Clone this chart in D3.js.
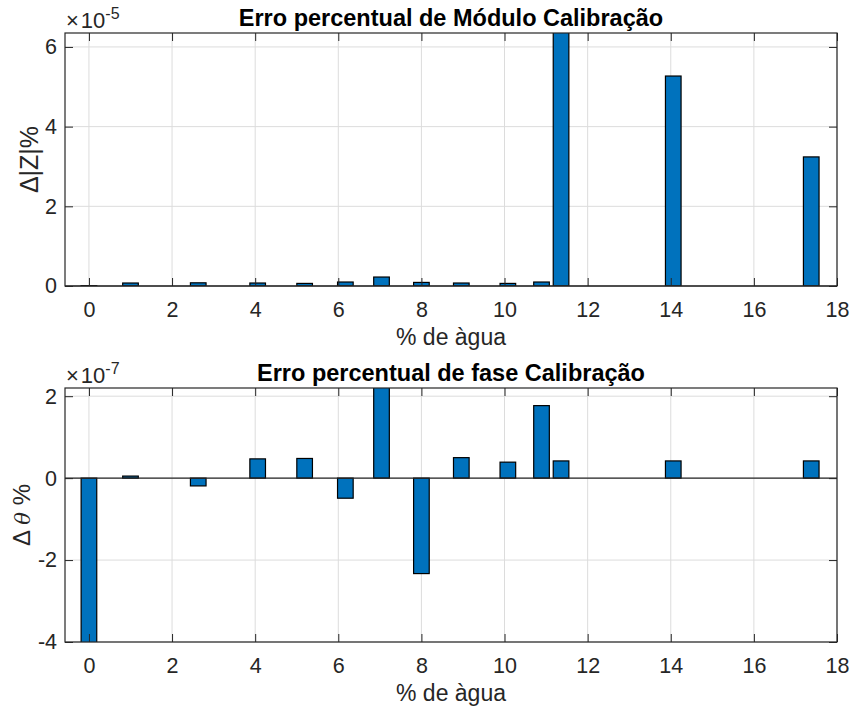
<!DOCTYPE html>
<meta charset="utf-8">
<head>
    <title>Erro percentual Calibração</title>
</head>
<script src="https://d3js.org/d3.v7.min.js"></script>
<style>
    body { margin: 0; background: #fff; }
    text { font-family: "Liberation Sans", Arial, sans-serif; fill: #262626; }
    .grid line { stroke: #dcdcdc; stroke-width: 1px; }
    .bar { fill: #0072bd; stroke: #000; stroke-width: 1.2px; }
    .frame { fill: none; stroke: #262626; stroke-width: 1.2px; }
    .title { font-weight: bold; fill: #000; }
</style>
<div id="viz"></div>
<script>

// % de água for each sample
var water = [0, 1.0, 2.63, 4.06, 5.19, 6.17, 7.04, 8.0, 8.96, 10.08, 10.89, 11.36, 14.06, 17.38];
// module error, units of 1e-5
var modErr = [0.01, 0.075, 0.08, 0.075, 0.065, 0.1, 0.225, 0.09, 0.075, 0.065, 0.1, 7.8, 5.27, 3.24];
// phase error, units of 1e-7
var phaseErr = [-4.6, 0.05, -0.19, 0.47, 0.48, -0.49, 2.6, -2.33, 0.5, 0.39, 1.77, 0.42, 0.42, 0.42];

var xTicks = [0, 2, 4, 6, 8, 10, 12, 14, 16, 18];
var modTicks = [0, 2, 4, 6];
var phaseTicks = [-4, -2, 0, 2];

var W = 854, H = 709;
var left = 65, right = 837;

var root = d3.select('#viz')
    .append('svg')
        .attr('width', W)
        .attr('height', H);

var x = d3.scaleLinear()
    .domain([-0.576, 18])
    .range([left, right]);

// bar width like matlab: 0.8 of the smallest gap
var minGap = d3.min(d3.pairs(water), function(p) { return p[1] - p[0]; });
var barW = x(0.8 * minGap) - x(0);

var plain = function(d) { return String(d); };

function panel(opts) {
    var top = opts.top, bottom = opts.bottom;
    var y = d3.scaleLinear()
        .domain(opts.domain)
        .range([bottom, top]);

    var g = root.append('g');

    g.append('clipPath')
        .attr('id', 'clip' + opts.id)
        .append('rect')
        .attr('x', left).attr('y', top)
        .attr('width', right - left).attr('height', bottom - top);

    // grid
    var grid = g.append('g').attr('class', 'grid');
    grid.selectAll('.gx')
        .data(xTicks)
        .enter().append('line')
        .attr('x1', function(d) { return x(d); })
        .attr('x2', function(d) { return x(d); })
        .attr('y1', top).attr('y2', bottom);
    grid.selectAll('.gy')
        .data(opts.ticks)
        .enter().append('line')
        .attr('x1', left).attr('x2', right)
        .attr('y1', function(d) { return y(d); })
        .attr('y2', function(d) { return y(d); });

    // bars
    g.append('g')
        .attr('clip-path', 'url(#clip' + opts.id + ')')
        .selectAll('rect')
        .data(opts.values)
        .enter().append('rect')
        .attr('class', 'bar')
        .attr('x', function(d, i) { return x(water[i]) - barW / 2; })
        .attr('width', barW)
        .attr('y', function(d) { return y(Math.max(0, d)); })
        .attr('height', function(d) { return Math.abs(y(d) - y(0)); });

    // baseline
    g.append('line')
        .attr('x1', left).attr('x2', right)
        .attr('y1', y(0)).attr('y2', y(0))
        .attr('stroke', '#262626')
        .attr('stroke-width', 1.2);

    // axes, ticks inside on all sides
    g.append('g')
        .attr('transform', 'translate(0,' + bottom + ')')
        .call(d3.axisBottom(x).tickValues(xTicks).tickFormat(plain).tickSizeInner(-8).tickSizeOuter(0).tickPadding(16))
        .call(function(a) {
            a.select('.domain').remove();
            a.selectAll('line').attr('stroke', '#262626');
            a.selectAll('text').style('font-size', '21.5px').attr('fill', '#262626');
        });
    g.append('g')
        .attr('transform', 'translate(0,' + top + ')')
        .call(d3.axisTop(x).tickValues(xTicks).tickSizeInner(-8).tickSizeOuter(0).tickFormat(''))
        .call(function(a) {
            a.select('.domain').remove();
            a.selectAll('line').attr('stroke', '#262626');
        });
    g.append('g')
        .attr('transform', 'translate(' + left + ',0)')
        .call(d3.axisLeft(y).tickValues(opts.ticks).tickFormat(plain).tickSizeInner(-8).tickSizeOuter(0).tickPadding(8))
        .call(function(a) {
            a.select('.domain').remove();
            a.selectAll('line').attr('stroke', '#262626');
            a.selectAll('text').style('font-size', '21.5px').attr('fill', '#262626');
        });
    g.append('g')
        .attr('transform', 'translate(' + right + ',0)')
        .call(d3.axisRight(y).tickValues(opts.ticks).tickSizeInner(-8).tickSizeOuter(0).tickFormat(''))
        .call(function(a) {
            a.select('.domain').remove();
            a.selectAll('line').attr('stroke', '#262626');
        });

    g.append('rect')
        .attr('class', 'frame')
        .attr('x', left).attr('y', top)
        .attr('width', right - left).attr('height', bottom - top);

    // title
    g.append('text')
        .attr('class', 'title')
        .attr('x', (left + right) / 2)
        .attr('y', top - 7)
        .style('font-size', '23.5px')
        .style('text-anchor', 'middle')
        .text(opts.title);

    // exponent
    var ex = g.append('text')
        .attr('x', left + 1)
        .attr('y', top - 5)
        .style('font-size', '22px')
        .attr('fill', '#262626');
    ex.append('tspan').text('\u00d7');
    ex.append('tspan').attr('dx', 2).text('10');
    ex.append('tspan').attr('dy', -9).style('font-size', '16px').text(opts.exp);

    // x label
    g.append('text')
        .attr('x', (left + right) / 2)
        .attr('y', bottom + 59)
        .style('font-size', '23px')
        .style('text-anchor', 'middle')
        .text('% de \u00e0gua');

    // y label
    var yl = g.append('text')
        .attr('transform', 'translate(' + opts.ylabelX + ',' + ((top + bottom) / 2) + ')rotate(-90)')
        .style('font-size', '24px')
        .style('text-anchor', 'middle');
    opts.ylabel(yl);
}

panel({
    id: 1, top: 33, bottom: 286,
    domain: [0, 6.35],
    ticks: modTicks,
    values: modErr,
    title: 'Erro percentual de M\u00f3dulo Calibra\u00e7\u00e3o',
    exp: '-5',
    ylabelX: 38,
    ylabel: function(t) { t.text('\u0394|Z|%').style('font-size', '25px'); }
});

panel({
    id: 2, top: 388, bottom: 642,
    domain: [-4, 2.2],
    ticks: phaseTicks,
    values: phaseErr,
    title: 'Erro percentual de fase Calibra\u00e7\u00e3o',
    exp: '-7',
    ylabelX: 30,
    ylabel: function(t) {
        t.append('tspan').text('\u0394 ');
        t.append('tspan').style('font-style', 'italic').style('font-family', 'DejaVu Serif, serif').style('font-size', '21px').text('\u03b8');
        t.append('tspan').text(' %');
    }
});

</script>
